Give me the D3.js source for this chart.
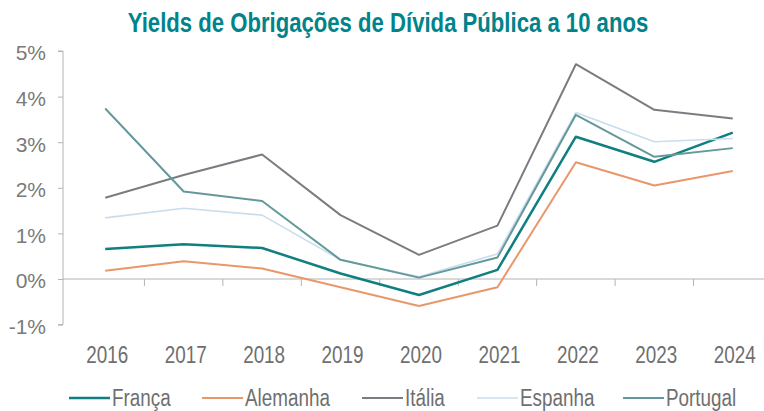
<!DOCTYPE html>
<html>
<head>
<meta charset="utf-8">
<script src="https://cdn.jsdelivr.net/npm/d3@7"></script>
<style>
  body { margin: 0; background: #fff; }
  text { font-family: "Liberation Sans", Arial, sans-serif; }
</style>
</head>
<body>
<svg width="764" height="411"></svg>
<script>
const years = ["2016", "2017", "2018", "2019", "2020", "2021", "2022", "2023", "2024"];
const yTicks = [-1, 0, 1, 2, 3, 4, 5];

const franca   = [0.66, 0.76, 0.68, 0.12, -0.35, 0.20, 3.12, 2.57, 3.21];
const alemanha = [0.18, 0.39, 0.23, -0.18, -0.59, -0.18, 2.56, 2.05, 2.37];
const italia   = [1.78, 2.28, 2.73, 1.40, 0.53, 1.17, 4.71, 3.71, 3.52];
const espanha  = [1.34, 1.55, 1.40, 0.42, 0.05, 0.55, 3.65, 3.01, 3.08];
const portugal = [3.74, 1.92, 1.71, 0.42, 0.03, 0.47, 3.60, 2.68, 2.87];

const series = [
  { name: "França",   values: franca,   color: "#0f7f80", width: 2.5 },
  { name: "Alemanha", values: alemanha, color: "#e9976a", width: 2 },
  { name: "Itália",   values: italia,   color: "#7d7b82", width: 2 },
  { name: "Espanha",  values: espanha,  color: "#c9ddee", width: 1.6 },
  { name: "Portugal", values: portugal, color: "#64999b", width: 2 }
];

const narrow = "scale(0.82,1)"; // fake a narrow face

const svg = d3.select("svg");

const x = d3.scaleBand().domain(years).range([66, 772]).padding(0);
const y = d3.scaleLinear().domain([-1, 5]).range([324.6, 51]);
const cx = d => x(d) + x.bandwidth() / 2;

// title
svg.append("text")
  .attr("transform", `translate(388,32) ${narrow}`)
  .attr("text-anchor", "middle")
  .attr("fill", "#00838a")
  .style("font-size", "27px")
  .style("font-weight", "bold")
  .text("Yields de Obrigações de Dívida Pública a 10 anos");

// y axis
const yAxis = svg.append("g")
  .attr("transform", "translate(63,0)")
  .call(d3.axisLeft(y).tickValues(yTicks).tickSize(5).tickFormat(d => d + "%"));
yAxis.select(".domain").attr("stroke", "#b4b4b4").attr("d", `M-5,${y(5)}H0V${y(-1)}H-5`);
yAxis.selectAll(".tick line").attr("stroke", "#b4b4b4");
yAxis.selectAll(".tick text")
  .attr("x", -17)
  .attr("dy", "0.42em")
  .attr("fill", "#7a7a7a")
  .style("font-size", "21px")
  .style("font-family", "Liberation Sans, Arial, sans-serif");

// zero line with category ticks
const xAxis = svg.append("g")
  .attr("transform", `translate(0,${y(0)})`)
  .call(d3.axisBottom(x).tickValues(years.slice(1)).tickSize(7).tickFormat(""));
xAxis.select(".domain").attr("stroke", "#b4b4b4").attr("d", "M63,0H764");
xAxis.selectAll(".tick line")
  .attr("stroke", "#b4b4b4")
  .attr("transform", `translate(${-x.bandwidth() / 2},0)`);

// year labels
svg.append("g").selectAll("text")
  .data(years)
  .join("text")
  .attr("transform", d => `translate(${cx(d) + 2},363) ${narrow}`)
  .attr("text-anchor", "middle")
  .attr("fill", "#6f6f6f")
  .style("font-size", "23px")
  .text(d => d);

// lines
const line = d3.line()
  .x((d, i) => cx(years[i]))
  .y(d => y(d));

svg.append("g").selectAll("path")
  .data(series)
  .join("path")
  .attr("fill", "none")
  .attr("stroke", d => d.color)
  .attr("stroke-width", d => d.width)
  .attr("stroke-linejoin", "round")
  .attr("d", d => line(d.values));

// legend
const legendX = [69, 202, 362, 477, 623];
const legend = svg.append("g").selectAll("g")
  .data(series)
  .join("g")
  .attr("transform", (d, i) => `translate(${legendX[i]},398)`);

legend.append("line")
  .attr("x1", 0).attr("x2", 41)
  .attr("stroke", d => d.color)
  .attr("stroke-width", d => d.width);

legend.append("text")
  .attr("transform", `translate(43,8) ${narrow}`)
  .attr("fill", "#6f6f6f")
  .style("font-size", "23px")
  .text(d => d.name);
</script>
</body>
</html>
